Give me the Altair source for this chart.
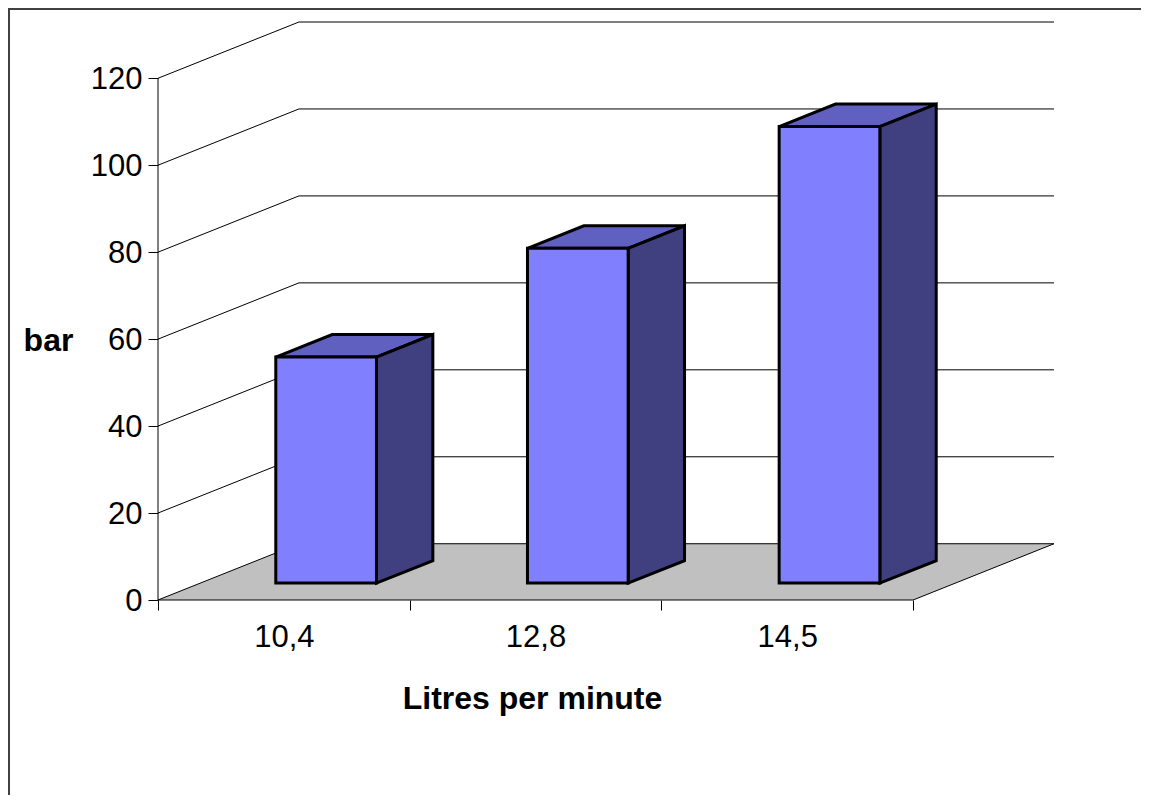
import altair as alt
import pandas as pd

# values
categories = ["10,4", "12,8", "14,5"]
pressures = [52, 77, 105]
y_ticks = [0, 20, 40, 60, 80, 100, 120]
x_title = "Litres per minute"
y_title = "bar"

# oblique projection of the depth axis, in data units
DEPTH_X = 0.56
DEPTH_Y = 12.94
Z_FRONT = 0.30
Z_BACK = 0.70
BAR_W = 0.40
N = len(categories)
X_MAX = N + DEPTH_X
Y_MAX = 120 + DEPTH_Y

xs = alt.Scale(domain=[0, X_MAX], nice=False, zero=False)
ys = alt.Scale(domain=[0, Y_MAX], nice=False, zero=False)

FONT = "Liberation Sans"
label_expr = " : ".join(
    f"datum.value == {i + 0.5} ? '{c}'" for i, c in enumerate(categories)
) + " : ''"

x_axis = alt.Axis(
    values=[k / 2 for k in range(2 * N + 1)],
    labelExpr=label_expr,
    tickOpacity={"condition": {"test": "datum.value % 1 == 0", "value": 1}, "value": 0},
    tickSize=10,
    tickColor="#000000",
    domain=False,
    grid=False,
    labelFont=FONT,
    labelFontSize=31,
    labelColor="#000000",
    labelPadding=12,
    labelOverlap=False,
    labelFlush=False,
    title=x_title,
    titleFont=FONT,
    titleFontSize=32,
    titleFontWeight="bold",
    titleColor="#000000",
    titleX=374,
    titleY=83,
    titleAlign="center",
)

y_axis = alt.Axis(
    values=y_ticks,
    tickSize=10,
    tickColor="#000000",
    domain=False,
    grid=False,
    labelFont=FONT,
    labelFontSize=31,
    labelColor="#000000",
    labelPadding=6,
    labelOffset=1,
    title=y_title,
    titleFont=FONT,
    titleFontSize=32,
    titleFontWeight="bold",
    titleColor="#000000",
    titleAngle=0,
    titleX=-110,
    titleY=335,
    titleAlign="center",
)


def X(field="x"):
    return alt.X(f"{field}:Q", scale=xs, axis=x_axis)


def Y(field="y"):
    return alt.Y(f"{field}:Q", scale=ys, axis=y_axis)


# floor
floor = pd.DataFrame(
    {
        "x": [0, DEPTH_X, N, X_MAX],
        "y": [0, DEPTH_Y, DEPTH_Y, DEPTH_Y],
        "y2": [0, 0, 0, DEPTH_Y],
    }
)

# gridlines along the side and back walls
grid_rows = []
for v in y_ticks[1:]:
    grid_rows += [
        {"v": v, "o": 0, "x": 0, "y": v},
        {"v": v, "o": 1, "x": DEPTH_X, "y": v + DEPTH_Y},
        {"v": v, "o": 2, "x": X_MAX, "y": v + DEPTH_Y},
    ]
grid = pd.DataFrame(grid_rows)

# bars: front, side and top faces
front_rows, side_rows, top_rows = [], [], []
for i, val in enumerate(pressures):
    xl = i + 0.5 - BAR_W / 2 + Z_FRONT * DEPTH_X
    xr = xl + BAR_W
    shift_x = (Z_BACK - Z_FRONT) * DEPTH_X
    base_f = Z_FRONT * DEPTH_Y
    base_b = Z_BACK * DEPTH_Y
    top_f = val + base_f
    top_b = val + base_b
    front_rows.append({"x": xl, "x2": xr, "y": top_f, "y2": base_f})
    side_rows += [
        {"bar": i, "x": xr, "y": top_f, "y2": base_f},
        {"bar": i, "x": xr + shift_x, "y": top_b, "y2": base_b},
    ]
    top_rows += [
        {"bar": i, "x": xl, "y": top_f, "y2": top_f},
        {"bar": i, "x": xl + shift_x, "y": top_b, "y2": top_f},
        {"bar": i, "x": xr, "y": top_b, "y2": top_f},
        {"bar": i, "x": xr + shift_x, "y": top_b, "y2": top_b},
    ]

floor_layer = (
    alt.Chart(floor)
    .mark_area(color="#C0C0C0", stroke="#000000", strokeWidth=1, interpolate="linear")
    .encode(x=X(), y=Y(), y2="y2:Q")
)

grid_layer = (
    alt.Chart(grid)
    .mark_line(color="#000000", strokeWidth=1)
    .encode(x=X(), y=Y(), detail="v:N", order="o:Q")
)

wall_edge = (
    alt.Chart(pd.DataFrame({"x": [0], "y": [0], "y2": [120]}))
    .mark_rule(color="#000000", strokeWidth=1)
    .encode(x=X(), y=Y(), y2="y2:Q")
)

tops = (
    alt.Chart(pd.DataFrame(top_rows))
    .mark_area(color="#6060C0", stroke="#000000", strokeWidth=3, strokeJoin="miter", interpolate="linear")
    .encode(x=X(), y=Y(), y2="y2:Q", detail="bar:N")
)
sides = (
    alt.Chart(pd.DataFrame(side_rows))
    .mark_area(color="#404080", stroke="#000000", strokeWidth=3, strokeJoin="miter", interpolate="linear")
    .encode(x=X(), y=Y(), y2="y2:Q", detail="bar:N")
)
fronts = (
    alt.Chart(pd.DataFrame(front_rows))
    .mark_rect(color="#8080FF", stroke="#000000", strokeWidth=3)
    .encode(x=X(), x2="x2:Q", y=Y(), y2="y2:Q")
)

# outer frame of the chart object (left and top edges only)
frame_left = (
    alt.Chart(pd.DataFrame({"k": [0]}))
    .mark_rule(color="#404040", strokeWidth=2)
    .encode(x=alt.value(-149), y=alt.value(-14), y2=alt.value(773))
)
frame_top = (
    alt.Chart(pd.DataFrame({"k": [0]}))
    .mark_rule(color="#404040", strokeWidth=2)
    .encode(x=alt.value(-150), x2=alt.value(983), y=alt.value(-13))
)

chart = (
    alt.layer(
        floor_layer, grid_layer, wall_edge, tops, sides, fronts, frame_left, frame_top
    )
    .properties(
        width=896,
        height=578,
        padding={"left": 150, "top": 14, "right": 87, "bottom": 195},
        autosize=alt.AutoSizeParams(type="none"),
        background="#FFFFFF",
    )
    .configure_view(stroke=None)
)

chart.save("out.html", embed_options={"renderer": "svg", "actions": False})
